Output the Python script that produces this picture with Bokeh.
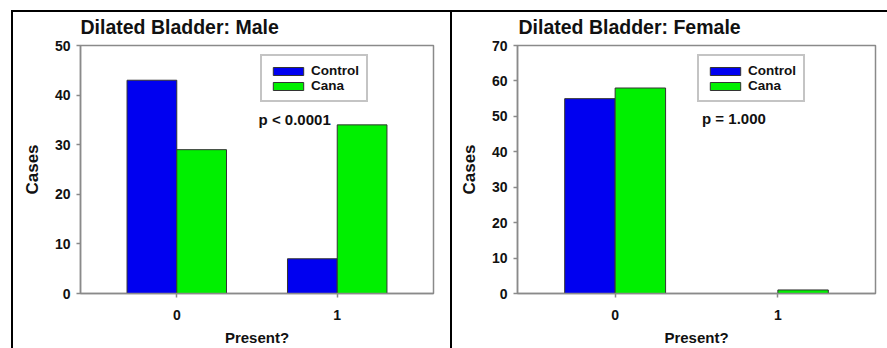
from bokeh.plotting import figure
from bokeh.models import Range1d, FixedTicker, Legend, LegendItem, Label, ColumnDataSource
from bokeh.transform import dodge
from bokeh.layouts import row
from bokeh.embed import file_html
from bokeh.resources import INLINE

# ---- data ----
present = [0, 1]
tick_labels = {0: "0", 1: "1"}
male_control = [43, 7]
male_cana = [29, 34]
female_control = [55, 0]
female_cana = [58, 1]
series = ["Control", "Cana"]
titles = ["Dilated Bladder: Male", "Dilated Bladder: Female"]
pvalues = ["p < 0.0001", "p = 1.000"]
x_label = "Present?"
y_label = "Cases"
y_max = [50, 70]

FONT = "Liberation Sans"
BLUE = "#0000F0"
GREEN = "#00F000"
GRAY = "#8a8a8a"
TXT = "#111111"
X0, X1 = -0.6, 1.6


def frame_lines(left, top):
    # black panel frame lines drawn as the host's CSS background (canvas border is transparent)
    return {
        "background": (
            f"linear-gradient(#000, #000) {left}px {top}px / 100% 2px no-repeat, "
            f"linear-gradient(#000, #000) {left}px {top}px / 2px 100% no-repeat, #ffffff"
        )
    }


def panel(title, control, cana, ymax, ptext, plabel_xy, width, border, line_left, title_dx):
    src = ColumnDataSource(dict(x=present, control=control, cana=cana))
    p = figure(width=width, height=348, output_backend="svg", toolbar_location=None,
               x_range=Range1d(X0, X1), y_range=Range1d(0, ymax),
               min_border_left=border[0], min_border_right=border[1],
               min_border_top=border[2], min_border_bottom=border[3],
               styles=frame_lines(line_left, 10))
    p.border_fill_alpha = 0
    p.background_fill_color = "white"

    p.title.text = title
    p.title.text_font = FONT
    p.title.text_font_style = "bold"
    p.title.text_font_size = "19.5px"
    p.title.text_color = TXT
    p.title.align = "left"
    p.title.offset = title_dx
    p.title.standoff = 16

    r1 = p.vbar(x=dodge("x", -0.155, range=p.x_range), top="control", width=0.31, source=src,
                fill_color=BLUE, line_color="#333333", line_width=1)
    r2 = p.vbar(x=dodge("x", 0.155, range=p.x_range), top="cana", width=0.31, source=src,
                fill_color=GREEN, line_color="#333333", line_width=1)

    p.xgrid.visible = False
    p.ygrid.visible = False
    p.outline_line_color = GRAY
    p.outline_line_width = 1.5

    p.xaxis.ticker = FixedTicker(ticks=present)
    p.xaxis.major_label_overrides = tick_labels
    p.yaxis.ticker = FixedTicker(ticks=list(range(0, ymax + 1, 10)))
    for ax in (p.xaxis[0], p.yaxis[0]):
        ax.axis_line_color = GRAY
        ax.axis_line_width = 1.5
        ax.major_tick_line_color = GRAY
        ax.major_tick_line_width = 1.5
        ax.major_tick_out = 4
        ax.major_tick_in = 0
        ax.minor_tick_line_color = None
        ax.major_label_text_font = FONT
        ax.major_label_text_font_style = "bold"
        ax.major_label_text_font_size = "14px"
        ax.major_label_text_color = TXT
        ax.axis_label_text_font = FONT
        ax.axis_label_text_font_style = "bold"
        ax.axis_label_text_color = TXT
    p.yaxis.axis_label = y_label
    p.yaxis.axis_label_text_font_size = "17px"
    p.yaxis.axis_label_standoff = 10
    p.yaxis.major_label_standoff = 6
    p.xaxis.axis_label = x_label
    p.xaxis.axis_label_text_font_size = "15px"
    p.xaxis.major_label_standoff = 12
    p.xaxis.axis_label_standoff = 6

    legend = Legend(items=[LegendItem(label=series[0], renderers=[r1]),
                           LegendItem(label=series[1], renderers=[r2])],
                    location=(180, 191), border_line_color=GRAY, border_line_width=2,
                    padding=7, margin=0, spacing=0, glyph_width=38, glyph_height=10,
                    label_standoff=4, label_text_font=FONT, label_text_font_style="bold",
                    label_text_font_size="13.5px", label_text_color=TXT,
                    background_fill_color="white", background_fill_alpha=1.0)
    p.add_layout(legend)

    p.add_layout(Label(x=plabel_xy[0], y=plabel_xy[1], text=ptext, text_font=FONT,
                       text_font_style="bold", text_font_size="15px", text_color=TXT,
                       text_baseline="middle", text_align="left"))
    return p


p1 = panel(titles[0], male_control, male_cana, y_max[0], pvalues[0], (0.51, 35.1),
           450, (80, 17, 45, 55), 11, 0)
p2 = panel(titles[1], female_control, female_cana, y_max[1], pvalues[1], (0.534, 49.3),
           437, (67, 12, 45, 53), 0, 1)

layout = row(p1, p2, spacing=0)
open("out.html", "w").write(file_html(layout, INLINE))
